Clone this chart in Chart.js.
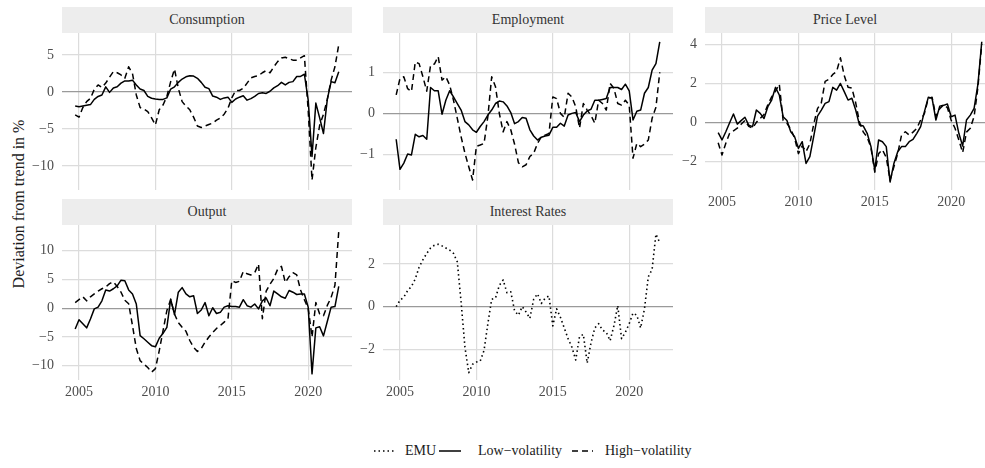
<!DOCTYPE html>
<html>
<head>
<meta charset="utf-8">
<script src="https://cdn.jsdelivr.net/npm/chart.js@4.4.1/dist/chart.umd.min.js"></script>
<style>
  html, body { margin: 0; padding: 0; background: #ffffff; }
  body { width: 985px; height: 468px; position: relative; overflow: hidden;
         font-family: 'Liberation Serif', 'Times New Roman', serif; }
  canvas { position: absolute; }
  .strip { position: absolute; background: #ededed; color: #333333; font-size: 14px;
           text-align: center; height: 26px; line-height: 26px; white-space: nowrap; }
  #ytitle { position: absolute; left: -131px; top: 194px; width: 300px; height: 20px;
            line-height: 20px; text-align: center; font-size: 16px; color: #1a1a1a;
            transform: rotate(-90deg); transform-origin: 150px 10px; white-space: nowrap; }
  .legtext { position: absolute; top: 443px; font-size: 14px; line-height: 16px; color: #1a1a1a; white-space: nowrap; }
  .legkey { position: absolute; top: 445px; }
</style>
</head>
<body>
<div id="ytitle">Deviation from trend in %</div>
<div id="root"></div>
<script>
// ---------- data (quarterly, decimal years) ----------
const quarters = [2004.75,
  2005, 2005.25, 2005.5, 2005.75, 2006, 2006.25, 2006.5, 2006.75,
  2007, 2007.25, 2007.5, 2007.75, 2008, 2008.25, 2008.5, 2008.75,
  2009, 2009.25, 2009.5, 2009.75, 2010, 2010.25, 2010.5, 2010.75,
  2011, 2011.25, 2011.5, 2011.75, 2012, 2012.25, 2012.5, 2012.75,
  2013, 2013.25, 2013.5, 2013.75, 2014, 2014.25, 2014.5, 2014.75,
  2015, 2015.25, 2015.5, 2015.75, 2016, 2016.25, 2016.5, 2016.75,
  2017, 2017.25, 2017.5, 2017.75, 2018, 2018.25, 2018.5, 2018.75,
  2019, 2019.25, 2019.5, 2019.75, 2020, 2020.25, 2020.5, 2020.75,
  2021, 2021.25, 2021.5, 2021.75, 2022];

const seriesNames = ['EMU', 'Low\u2212volatility', 'High\u2212volatility'];
const panelTitles = ['Consumption', 'Employment', 'Price Level', 'Output', 'Interest Rates'];

const consumptionLow = [-1.9,-2.0,-1.9,-1.8,-1.7,-1.0,-0.6,-0.4,0.7,-0.05,
  0.55,0.7,1.2,1.5,1.5,1.6,0.95,0.4,0.2,-0.6,
  -0.85,-0.95,-1.0,-1.0,-0.8,0.4,0.7,1.3,1.75,2.05,
  2.2,2.15,1.85,1.3,0.65,0.45,-0.55,-0.7,-1.0,-0.8,
  -0.7,-1.4,-0.95,-0.7,-0.5,-1.1,-0.9,-0.6,-0.2,-0.1,
  -0.2,0.1,0.55,0.85,1.3,0.95,1.3,1.4,2.1,2.1,
  2.4,-1.1,-8.7,-1.5,-3.5,-5.6,-1.0,1.4,1.25,2.75];
const consumptionHigh = [-3.1,-3.4,-2.1,-1.3,-0.85,0.35,0.95,0.6,1.2,2.0,
  2.75,2.6,2.3,1.85,3.4,2.5,-0.4,-2.1,-2.3,-2.65,
  -3.5,-4.45,-2.4,-1.75,-0.6,1.4,3.1,0.5,-1.3,-1.9,
  -2.4,-3.4,-4.6,-4.8,-4.6,-4.4,-4.2,-3.8,-3.5,-3.0,
  -2.2,-0.8,0.2,0.2,0.5,1.2,1.9,2.1,2.2,2.6,
  2.9,2.6,3.4,4.1,4.6,4.7,4.5,4.3,4.3,4.6,
  4.9,-2.5,-11.9,-7.5,-4.5,-3.0,-1.0,1.6,3.4,6.4];

const employmentLow = [-0.63,-1.36,-1.21,-0.99,-1.01,-0.51,-0.57,-0.54,-0.63,0.63,
  0.55,0.55,-0.02,0.32,0.55,0.4,0.24,0.08,-0.2,-0.28,
  -0.4,-0.46,-0.32,-0.2,-0.04,0.08,0.24,0.3,0.28,0.18,
  0.02,-0.25,-0.2,-0.1,-0.12,-0.4,-0.55,-0.65,-0.58,-0.55,
  -0.53,-0.34,-0.34,-0.24,-0.31,-0.04,0.0,0.02,-0.2,-0.04,
  0.06,0.1,0.32,0.32,0.34,0.36,0.63,0.63,0.63,0.58,
  0.71,0.55,-0.16,0.05,0.08,0.49,0.63,1.05,1.21,1.74];
const employmentHigh = [0.45,0.85,0.89,0.6,0.53,1.25,1.21,0.89,0.54,1.17,
  1.2,1.38,0.81,0.89,0.69,0.32,-0.12,-0.57,-0.97,-1.3,
  -1.62,-0.8,-0.77,-0.73,-0.08,0.89,0.65,0.0,-0.45,-0.2,
  -0.4,-0.75,-1.2,-1.3,-1.25,-1.05,-0.97,-0.73,-0.57,-0.53,
  -0.49,0.4,0.36,0.0,-0.1,0.49,0.4,0.16,-0.36,0.24,
  0.08,-0.05,-0.24,0.32,0.24,0.08,0.73,0.61,0.24,0.2,
  0.32,0.2,-1.09,-0.73,-0.81,-0.75,-0.65,-0.12,0.15,1.0];

const priceLow = [-0.53,-0.9,-0.48,-0.02,0.43,-0.09,0.09,0.26,-0.14,-0.22,
  0.63,0.46,0.2,0.8,1.14,1.79,1.4,0.29,0.09,-0.48,
  -0.73,-1.33,-0.99,-2.1,-1.75,-0.73,0.32,0.63,0.97,1.06,
  1.79,1.65,1.99,1.57,1.14,1.23,0.63,-0.14,-0.19,-0.56,
  -1.24,-2.44,-0.9,-0.99,-1.24,-3.05,-2.1,-1.5,-1.24,-1.24,
  -0.99,-0.87,-0.56,-0.22,0.55,1.28,1.23,0.12,0.83,0.87,
  0.94,0.29,0.37,-0.56,-1.21,0.12,0.37,0.72,1.95,4.12];
const priceHigh = [-1.04,-1.67,-1.07,-0.56,-0.43,-0.3,-0.1,0.1,-0.2,-0.3,
  0.0,0.2,0.4,0.9,1.3,1.6,1.95,0.1,-0.05,-0.35,
  -0.8,-1.6,-1.2,-1.5,-1.1,-0.1,0.7,1.0,2.1,2.2,
  2.45,2.6,3.3,2.4,1.8,1.75,1.0,0.0,-0.5,-0.75,
  -1.3,-2.55,-1.6,-1.4,-1.8,-2.95,-2.27,-1.6,-0.65,-0.48,
  -0.65,-0.5,-0.3,0.12,0.46,1.23,1.28,0.3,0.7,0.9,
  0.75,0.1,-0.3,-0.9,-1.55,-0.5,-0.3,0.3,1.8,4.0];

const outputLow = [-3.6,-2.0,-2.7,-3.4,-1.85,-0.1,0.2,1.3,3.2,3.0,
  3.4,3.9,4.9,4.8,3.2,2.5,0.75,-4.75,-5.3,-5.9,
  -6.5,-6.7,-5.2,-4.35,-3.3,1.6,-1.1,2.8,3.6,2.5,
  2.0,2.2,-0.9,-0.3,1.0,-1.3,0.1,-0.9,-0.7,0.2,
  0.45,0.3,0.3,0.2,1.5,0.45,0.2,0.75,-0.1,1.3,
  1.8,0.45,3.0,2.5,2.0,1.75,3.1,2.8,2.4,2.5,
  2.5,0.2,-11.4,-3.4,-3.2,-4.8,-2.3,0.2,0.3,3.8];
const outputHigh = [1.0,1.5,2.0,1.3,2.0,2.5,3.0,3.4,3.7,4.3,
  4.6,3.8,2.8,1.4,0.8,-3.0,-7.0,-9.1,-9.7,-10.3,
  -11.1,-10.5,-7.4,-3.9,-0.4,1.5,-1.0,-2.5,-3.3,-4.0,
  -5.6,-6.8,-7.5,-7.0,-5.9,-5.0,-4.2,-3.5,-3.0,-2.4,
  -1.8,4.8,4.5,4.7,6.4,6.0,5.8,6.2,7.7,-1.8,
  3.0,4.2,5.2,6.8,7.3,4.5,5.5,6.2,5.8,3.2,
  1.5,0.0,-5.0,1.0,-1.0,-1.3,0.5,1.9,4.0,13.4];

const interestEMU = [0.0,0.3,0.45,0.75,0.95,1.3,1.85,2.2,2.5,2.75,
  2.88,2.93,2.85,2.75,2.65,2.5,2.1,0.2,-1.9,-3.1,
  -2.7,-2.6,-2.55,-2.05,-0.8,0.35,0.4,1.0,1.25,0.65,
  0.7,-0.2,-0.4,0.0,-0.25,-0.55,0.35,0.6,0.15,0.4,
  0.5,-0.9,-0.1,-0.5,-1.0,-1.5,-1.9,-2.5,-1.4,-1.3,
  -2.65,-1.7,-1.0,-0.8,-1.1,-1.2,-1.6,-0.9,0.05,-1.5,
  -1.2,-0.8,-0.3,-0.4,-1.0,-0.1,1.4,1.75,3.4,3.0];

// tick labels
const xTicks = [2005, 2010, 2015, 2020];
const consumptionTicks = [-10, -5, 0, 5];
const employmentTicks = [-1, 0, 1];
const priceTicks = [-2, 0, 2, 4];
const outputTicks = [-10, -5, 0, 5, 10];
const interestTicks = [-2, 0, 2];

// ---------- layout & styling ----------
const FONT = "'Liberation Serif', 'Times New Roman', serif";
Chart.defaults.font.family = FONT;
Chart.defaults.font.size = 14;
const DASH = { emu: [1.5, 3], low: [], high: [6, 4] };
const XMIN = 2003.8875;
const PXYEAR = 15.28;
const YAXW = 40, XAXH = 28;

const panels = [
  { title: panelTitles[0], left: 62,  stripTop: 7,   top: 33,  w: 290, h: 157, ymin: -13.24, ymax: 7.97, yticks: consumptionTicks, xlab: false,
    series: [{ v: consumptionLow, k: 'low' }, { v: consumptionHigh, k: 'high' }] },
  { title: panelTitles[1], left: 383, stripTop: 7,   top: 33,  w: 290, h: 157, ymin: -1.864, ymax: 1.955, yticks: employmentTicks, xlab: false,
    series: [{ v: employmentLow, k: 'low' }, { v: employmentHigh, k: 'high' }] },
  { title: panelTitles[2], left: 705, stripTop: 7,   top: 33,  w: 280, h: 157, ymin: -3.46, ymax: 4.57, yticks: priceTicks, xlab: true,
    series: [{ v: priceLow, k: 'low' }, { v: priceHigh, k: 'high' }] },
  { title: panelTitles[3], left: 62,  stripTop: 199, top: 225, w: 290, h: 155, ymin: -12.47, ymax: 14.49, yticks: outputTicks, xlab: true,
    series: [{ v: outputLow, k: 'low' }, { v: outputHigh, k: 'high' }] },
  { title: panelTitles[4], left: 383, stripTop: 199, top: 225, w: 290, h: 155, ymin: -3.44, ymax: 3.83, yticks: interestTicks, xlab: true,
    series: [{ v: interestEMU, k: 'emu' }] }
];

const root = document.getElementById('root');
const minus = (v) => String(v).replace('-', '\u2212');

panels.forEach((p, idx) => {
  const strip = document.createElement('div');
  strip.className = 'strip';
  strip.style.left = p.left + 'px';
  strip.style.top = p.stripTop + 'px';
  strip.style.width = p.w + 'px';
  strip.textContent = p.title;
  root.appendChild(strip);

  const cv = document.createElement('canvas');
  const cw = YAXW + p.w, ch = p.h + (p.xlab ? XAXH : 0);
  cv.width = cw; cv.height = ch;
  cv.style.width = cw + 'px'; cv.style.height = ch + 'px';
  cv.style.left = (p.left - YAXW) + 'px';
  cv.style.top = p.top + 'px';
  root.appendChild(cv);

  const xmax = XMIN + p.w / PXYEAR;
  new Chart(cv, {
    type: 'line',
    data: {
      datasets: p.series.map(s => ({
        label: s.k,
        data: quarters.map((q, i) => ({ x: q, y: s.v[i] })),
        borderColor: '#000000',
        borderWidth: s.k === 'emu' ? 1.6 : 1.5,
        borderDash: DASH[s.k],
        borderCapStyle: 'butt',
        borderJoinStyle: 'round',
        pointRadius: 0,
        tension: 0,
        fill: false
      }))
    },
    options: {
      responsive: false,
      devicePixelRatio: 1,
      animation: false,
      layout: { padding: 0 },
      plugins: { legend: { display: false }, tooltip: { enabled: false } },
      scales: {
        x: {
          type: 'linear', min: XMIN, max: xmax,
          afterBuildTicks: (s) => { s.ticks = xTicks.map(v => ({ value: v })); },
          afterFit: (s) => { s.height = p.xlab ? XAXH : 0; s.paddingLeft = 0; s.paddingRight = 0; s.paddingTop = 0; s.paddingBottom = 0; },
          grid: { color: '#dcdcdc', lineWidth: 1.2, drawTicks: false },
          border: { display: false },
          ticks: { display: p.xlab, color: '#4d4d4d', padding: 4, maxRotation: 0, autoSkip: false,
                   font: { size: 14, family: FONT }, callback: (v) => String(v) }
        },
        y: {
          type: 'linear', min: p.ymin, max: p.ymax,
          afterBuildTicks: (s) => { s.ticks = p.yticks.map(v => ({ value: v })); },
          afterFit: (s) => { s.width = YAXW; s.paddingLeft = 0; s.paddingRight = 0; s.paddingTop = 0; s.paddingBottom = 0; },
          grid: { color: (c) => (c.tick && c.tick.value === 0) ? '#9a9a9a' : '#dcdcdc', lineWidth: 1.2, drawTicks: false },
          border: { display: false },
          ticks: { color: '#4d4d4d', padding: 8, autoSkip: false,
                   font: { size: 14, family: FONT }, callback: (v) => minus(v) }
        }
      }
    }
  });
});

// ---------- legend ----------
const legendItems = [
  { name: seriesNames[0], k: 'emu',  keyLeft: 374, keyW: 20, textLeft: 405 },
  { name: seriesNames[1], k: 'low',  keyLeft: 439, keyW: 22, textLeft: 478 },
  { name: seriesNames[2], k: 'high', keyLeft: 572, keyW: 21, textLeft: 605 }
];
legendItems.forEach(it => {
  const kc = document.createElement('canvas');
  kc.className = 'legkey';
  kc.width = it.keyW; kc.height = 12;
  kc.style.left = it.keyLeft + 'px';
  root.appendChild(kc);
  const g = kc.getContext('2d');
  g.strokeStyle = '#000';
  g.lineWidth = it.k === 'emu' ? 1.6 : 1.5;
  g.lineCap = 'butt';
  g.setLineDash(DASH[it.k]);
  g.beginPath(); g.moveTo(0, 6); g.lineTo(it.keyW, 6); g.stroke();
  const t = document.createElement('div');
  t.className = 'legtext';
  t.style.left = it.textLeft + 'px';
  t.textContent = it.name;
  root.appendChild(t);
});
</script>
</body>
</html>
